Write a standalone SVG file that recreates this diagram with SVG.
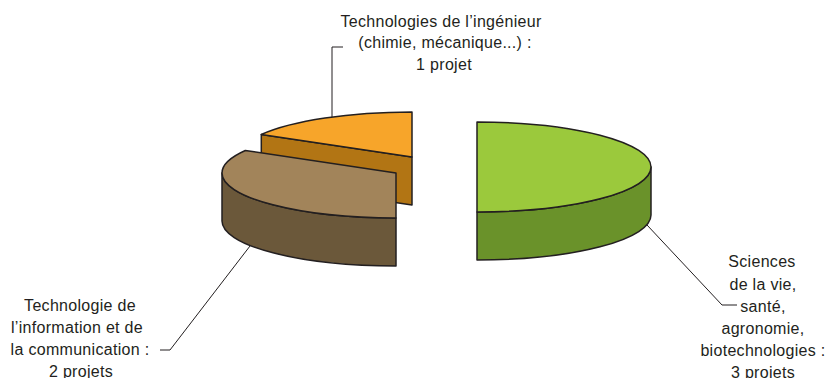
<svg xmlns="http://www.w3.org/2000/svg" width="828" height="378" viewBox="0 0 828 378">
<style>
.e{stroke:#231F20;stroke-width:1.5;stroke-linejoin:round}
.l{fill:none;stroke:#231F20;stroke-width:1}
text{font-family:"Liberation Sans",Arial,sans-serif;font-size:16px;letter-spacing:0.3px;fill:#231F20;text-anchor:middle}
</style>
<rect width="828" height="378" fill="#fff"/>
<g id="connectors">
<path class="l" d="M343,47 L332,47 L332,117"/>
<path class="l" d="M160,350 L170,350 L250,246"/>
<path class="l" d="M647,225 L722,305 L737,305"/>
</g>
<g id="node-ingenieur">
<path class="e" fill="#B27514" d="M261.3,134.5 L412,157 L412,205 L261.3,182.5 Z"/>
<path class="e" fill="#F7A52A" d="M412,157 L261.3,134.5 A174,45 0 0 1 412,112 Z"/>
<text x="441" y="27">Technologies de l’ingénieur</text>
<text x="445" y="48">(chimie, mécanique...) :</text>
<text x="444" y="70">1 projet</text>
</g>
<g id="node-tic">
<path class="e" fill="#6B583A" d="M396,218 L396,266 A174,45 0 0 1 222,221 L222,173 A174,45 0 0 0 396,218 Z"/>
<path class="e" fill="#A2845A" d="M396,173 L396,218 A174,45 0 0 1 222,173 A174,45 0 0 1 245.3,150.5 Z"/>
<text x="80" y="311">Technologie de</text>
<text x="77" y="333">l’information et de</text>
<text x="80" y="355">la communication :</text>
<text x="81" y="377">2 projets</text>
</g>
<g id="node-sciences">
<path class="e" fill="#6A922A" d="M651,167 L651,215 A174,45 0 0 1 477,260 L477,212 A174,45 0 0 0 651,167 Z"/>
<path class="e" fill="#9BC93C" d="M477,122 A174,45 0 0 1 477,212 Z"/>
<text x="762" y="267">Sciences</text>
<text x="763" y="290">de la vie,</text>
<text x="763" y="312">santé,</text>
<text x="763" y="334">agronomie,</text>
<text x="763" y="356">biotechnologies :</text>
<text x="763" y="378">3 projets</text>
</g>
</svg>
